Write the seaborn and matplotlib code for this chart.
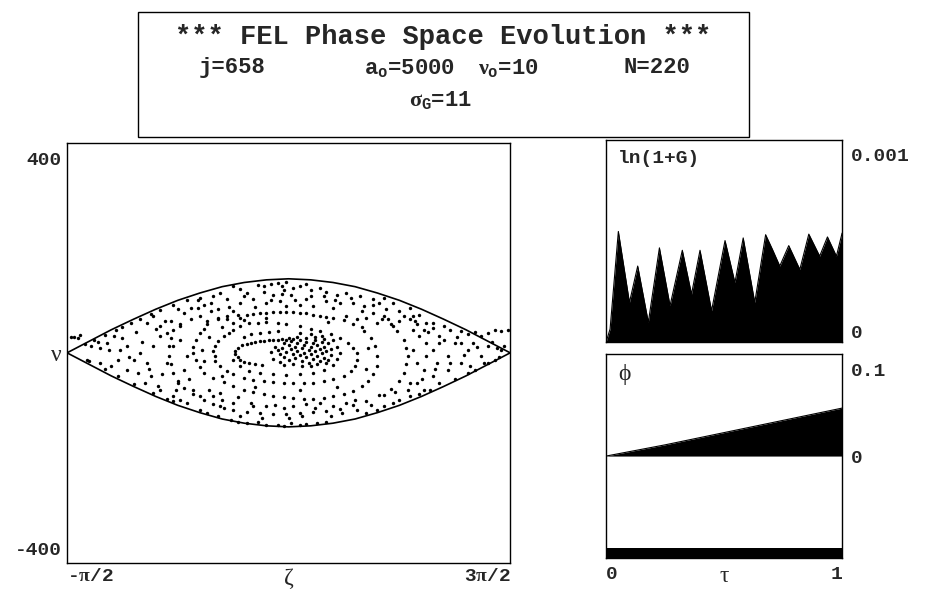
"""
FEL phase space evolution snapshot: particle phase space, gain and phase panels.
"""
import matplotlib

matplotlib.use("Agg")
import matplotlib.pyplot as plt  # noqa: E402
from matplotlib.patches import Rectangle  # noqa: E402
from matplotlib.transforms import ScaledTranslation  # noqa: E402

import numpy as np  # noqa: E402
import pandas as pd  # noqa: E402
import seaborn as sns  # noqa: E402

# Particles in the phase-space panel as (zeta / pi, nu).
core = [(0.27, 10), (0.29, 14), (0.31, 16), (0.33, 19), (0.35, 21), (0.37, 22),
        (0.39, 23), (0.41, 24), (0.43, 24), (0.45, 25), (0.47, 26), (0.49, 24),
        (0.26, 4), (0.26, -2), (0.27, -8), (0.28, -13), (0.30, -17), (0.32, -20),
        (0.35, -22), (0.38, -24),
        (0.44, 12), (0.45, 5), (0.46, -3), (0.47, 9), (0.48, 18), (0.48, -8),
        (0.49, 2), (0.50, 14), (0.50, -14), (0.51, 22), (0.51, 7), (0.52, -2),
        (0.52, 26), (0.53, 11), (0.53, -10), (0.54, 18), (0.54, 3), (0.55, -5),
        (0.55, 24), (0.56, 9), (0.56, -16), (0.57, 15), (0.57, 0), (0.58, 21),
        (0.58, -8), (0.59, 6), (0.59, -20), (0.60, 12), (0.60, -2), (0.61, 19),
        (0.61, -12), (0.62, 4), (0.62, 25), (0.63, -6), (0.63, 14), (0.64, -15),
        (0.64, 8), (0.65, 20), (0.65, 0), (0.66, -10), (0.66, 12), (0.67, 4),
        (0.67, -20), (0.46, -18), (0.48, -24), (0.52, -22), (0.56, -26),
        (0.60, -25), (0.63, -22), (0.50, 28), (0.54, 30), (0.58, 29), (0.62, 30),
        (0.66, 26), (0.68, 18), (0.69, 8), (0.69, -4), (0.68, -14), (0.43, -12),
        (0.42, 2)]

inner_ring = [(0.30, 30), (0.33, 35), (0.37, 38), (0.41, 40), (0.45, 41),
              (0.55, 38), (0.60, 35), (0.65, 32), (0.70, 24), (0.72, 12),
              (0.73, 0), (0.72, -12), (0.70, -24), (0.66, -32), (0.61, -38),
              (0.55, -41), (0.49, -42), (0.43, -41), (0.37, -39), (0.32, -34),
              (0.28, -26), (0.25, -14)]

ring_b = [(0.25, 44), (0.28, 51), (0.32, 56), (0.36, 57), (0.40, 58), (0.45, 57),
          (0.49, 55), (0.55, 51), (0.60, 46), (0.64, 41), (0.69, 35), (0.73, 29),
          (0.77, 19), (0.79, 10), (0.81, 0), (0.81, -13), (0.80, -25), (0.78, -35),
          (0.75, -44), (0.70, -50), (0.66, -54), (0.61, -57), (0.57, -58),
          (0.52, -58), (0.48, -57), (0.43, -56), (0.39, -54), (0.34, -52),
          (0.30, -48), (0.25, -41), (0.22, -35), (0.19, -25), (0.17, -16),
          (0.17, -6), (0.16, 3), (0.17, 13), (0.18, 22), (0.21, 32), (0.23, 38)]

ring_c = [(0.13, 54), (0.18, 64), (0.22, 70), (0.27, 73), (0.31, 73), (0.34, 74),
          (0.37, 75), (0.40, 76), (0.43, 77), (0.46, 77), (0.49, 77), (0.52, 77),
          (0.55, 76), (0.58, 75), (0.61, 73), (0.64, 71), (0.67, 69), (0.70, 66),
          (0.75, 62), (0.79, 54), (0.84, 41), (0.87, 29), (0.89, 13), (0.90, -6),
          (0.90, -25), (0.88, -41), (0.86, -54), (0.83, -64), (0.79, -73),
          (0.75, -79), (0.70, -83), (0.66, -86), (0.61, -88), (0.57, -88),
          (0.52, -86), (0.48, -84), (0.43, -83), (0.39, -79), (0.34, -75),
          (0.30, -70), (0.25, -64), (0.21, -56), (0.16, -48), (0.12, -38),
          (0.10, -27), (0.08, -14), (0.07, -1), (0.07, 11), (0.08, 24),
          (0.10, 38), (0.12, 46)]

ring_d = [(0.01, 51), (-0.02, 44), (-0.03, 29), (-0.04, 13), (-0.04, -6),
          (-0.03, -22), (-0.02, -38), (0.00, -54), (0.03, -67), (0.07, -79),
          (0.12, -90), (0.16, -98), (0.21, -105), (0.25, -109), (0.31, -113),
          (0.37, -114), (0.43, -116), (0.49, -116), (0.55, -114), (0.61, -113),
          (0.67, -111), (0.73, -107), (0.79, -100), (0.85, -92), (0.91, -81),
          (0.96, -69), (1.00, -54), (1.02, -38), (1.03, -22), (1.04, -6),
          (1.03, 10), (1.02, 25), (0.99, 41), (0.96, 54), (0.92, 65), (0.88, 75)]

top_band = [(0.36, 130), (0.39, 128), (0.42, 132), (0.45, 133), (0.47, 127),
            (0.49, 135), (0.52, 124), (0.55, 127), (0.58, 132), (0.64, 124),
            (0.25, 127), (0.28, 122), (0.31, 114), (0.19, 114), (0.16, 109),
            (0.10, 105), (0.67, 116), (0.72, 111), (0.76, 114), (0.82, 108),
            (0.88, 102), (0.93, 105), (0.39, 116), (0.43, 111), (0.48, 119),
            (0.60, 108), (0.51, 110),
            (-0.12, 74), (-0.08, 82), (-0.02, 92), (0.04, 100), (0.09, 100),
            (0.12, 92), (0.15, 95), (0.22, 102), (0.28, 95), (0.34, 102),
            (0.40, 95), (0.46, 98), (0.49, 89), (0.55, 92), (0.61, 89),
            (0.67, 98), (0.73, 95), (0.79, 95), (0.84, 89), (0.88, 92),
            (0.94, 83), (0.97, 95), (1.00, 79), (1.05, 86), (1.09, 73),
            (0.00, 83), (0.06, 86), (0.18, 83), (0.25, 79), (0.58, 102),
            (0.70, 86),
            (-0.33, 34), (-0.28, 44), (-0.25, 50), (-0.21, 57), (-0.17, 64),
            (-0.14, 57), (-0.11, 70), (-0.08, 51), (-0.03, 60), (0.01, 54),
            (0.06, 64), (0.10, 70), (0.13, 60), (0.18, 67), (0.22, 64),
            (0.25, 57), (0.28, 67),
            (0.76, 70), (0.81, 64), (0.85, 67), (0.90, 57), (0.93, 70),
            (0.97, 51), (1.00, 60), (1.05, 64), (1.08, 54), (1.12, 57),
            (1.15, 48), (1.20, 51), (1.23, 44), (1.28, 41), (1.31, 35)]

bottom_band = [(0.24, -128), (0.27, -131), (0.31, -134), (0.36, -132),
               (0.40, -137), (0.45, -137), (0.48, -139), (0.51, -133),
               (0.55, -137), (0.58, -135), (0.63, -133), (0.67, -132),
               (0.10, -108), (0.13, -114), (0.18, -121), (0.19, -102),
               (0.25, -95), (0.28, -121), (0.34, -102), (0.40, -102),
               (0.48, -105), (0.52, -102), (0.58, -98), (0.64, -95),
               (0.70, -102), (0.76, -95), (0.81, -108), (0.85, -114),
               (0.90, -108), (0.93, -102), (0.97, -95), (1.00, -89),
               (0.04, -95), (0.01, -89), (-0.02, -92), (0.10, -83),
               (0.07, -70), (0.16, -83), (0.19, -76)]

left_wing = [(-0.42, 17), (-0.39, 13), (-0.38, 25), (-0.35, 10), (-0.32, 19),
             (-0.29, 32), (-0.26, 6), (-0.23, 13), (-0.20, -13), (-0.17, 0),
             (-0.14, -19), (-0.11, 13), (-0.40, -15), (-0.41, -13),
             (-0.35, -19), (-0.30, -25), (-0.27, -13), (-0.23, -32),
             (-0.18, -38), (-0.15, -57), (-0.12, -44), (-0.09, -64),
             (-0.33, -30), (-0.27, -44), (-0.20, -60), (-0.11, -76),
             (-0.08, -70), (-0.05, -88), (-0.02, -83), (0.00, -57),
             (-0.05, -19), (-0.02, 13), (-0.08, 32), (-0.05, 38), (0.01, 25),
             (0.04, -6), (0.03, -32)]

right_wing = [(1.06, 44), (1.09, 32), (1.12, 19), (1.15, 6), (1.18, 32),
              (1.22, -6), (1.25, 19), (1.28, -19), (1.31, 6), (1.34, -32),
              (1.37, -6), (1.40, 13), (1.43, -13), (1.46, 6), (1.08, -19),
              (1.11, -32), (1.15, -44), (1.18, -57), (1.22, -32), (1.25, -50),
              (1.08, -57), (1.11, -70), (1.05, -83), (1.09, -78), (1.14, -70),
              (1.05, -57), (1.06, 6), (1.12, -6), (1.17, -19), (1.28, 19),
              (1.33, 19), (1.40, -19), (1.44, 10), (1.31, -38), (1.06, 70),
              (1.11, 44), (1.15, 57), (1.18, 19)]

scattered = [(-0.36, 20), (-0.31, 5), (-0.25, 28), (-0.22, -8), (-0.19, 40),
             (-0.16, 20), (-0.13, -30), (-0.10, 45), (-0.07, -40), (-0.06, 60),
             (-0.01, -70), (0.03, 75), (0.05, -50), (0.09, 85), (0.14, -70),
             (0.15, 80), (0.20, -90), (0.23, 88), (0.27, -85), (0.30, 108),
             (0.33, -95), (0.35, 88), (0.38, -125), (0.42, 100), (0.44, -100),
             (0.47, 112), (0.50, -125), (0.53, 100), (0.56, -120), (0.60, 120),
             (0.62, -105), (0.66, 108), (0.69, -120), (0.71, 100), (0.74, -115),
             (0.78, 105), (0.80, -90), (0.83, 80), (0.87, -100), (0.91, 95),
             (0.93, -80), (0.95, 65), (0.98, -75), (1.02, 70), (1.04, -70),
             (1.07, 60), (1.10, -50), (1.13, 40), (1.16, -30), (1.20, 25),
             (1.23, -20), (1.26, 30), (1.29, -5), (1.32, -25), (1.35, 12),
             (1.38, -20), (1.42, 20), (1.45, -8), (0.20, 50), (0.14, 30),
             (0.11, 5), (0.12, -15), (0.20, -45), (0.35, -65), (0.55, -70),
             (0.72, -65), (0.85, -30), (0.86, 10), (0.83, 50), (0.68, 58),
             (0.40, 66), (0.30, 62)]

outside = [(-0.48, 30), (-0.47, 31), (-0.45, 28), (-0.44, 34), (1.34, 40),
           (1.37, 32), (1.40, 38), (1.43, 44), (1.46, 41), (1.49, 44),
           (1.47, 13)]

# Separatrix, (zeta / pi, nu).
sep_zeta = [-0.5, -0.4, -0.3, -0.2, -0.1, 0.0, 0.1, 0.2, 0.3, 0.4, 0.5,
            0.6, 0.7, 0.8, 0.9, 1.0, 1.1, 1.2, 1.3, 1.4, 1.5]
sep_nu = [0, 22, 44, 64, 83, 100, 114, 126, 134, 139, 141,
          139, 134, 126, 114, 100, 83, 64, 44, 22, 0]

# Gain ln(1+G) against tau, values in units of 1e-3.
gain_tau = [0.0, 0.017, 0.052, 0.099, 0.134, 0.179, 0.226, 0.271, 0.323, 0.362,
            0.398, 0.447, 0.504, 0.546, 0.581, 0.630, 0.676, 0.705, 0.736,
            0.774, 0.821, 0.859, 0.905, 0.938, 0.976, 1.0]
gain_val = [0.0, 0.065, 0.547, 0.196, 0.376, 0.098, 0.466, 0.180, 0.454, 0.237,
            0.454, 0.155, 0.502, 0.294, 0.515, 0.196, 0.531, 0.458, 0.376,
            0.477, 0.359, 0.534, 0.425, 0.520, 0.425, 0.539]

# Optical phase against tau.
phase_tau = [0.0, 0.25, 0.5, 0.75, 1.0]
phase_val = [0.0, 0.011, 0.023, 0.035, 0.047]

# Progress bar at the foot of the phase panel (fraction of the run done).
progress_tau = [0.0, 1.0]

sns.set_style("white")
plt.rcParams.update({
    "font.family": ["Liberation Mono", "DejaVu Sans"],
    "font.weight": "bold",
    "mathtext.fontset": "custom",
    "mathtext.rm": "Liberation Mono:bold",
    "mathtext.bf": "Liberation Mono:bold",
    "mathtext.it": "Liberation Serif",
    "axes.edgecolor": "black",
    "axes.linewidth": 1.0,
})
GREEK = ["Liberation Serif", "DejaVu Serif"]

groups = {"core": core, "inner": inner_ring, "ring_b": ring_b, "ring_c": ring_c,
          "ring_d": ring_d, "top": top_band, "bottom": bottom_band,
          "left": left_wing, "right": right_wing, "scattered": scattered,
          "outside": outside}
rows = [(z * np.pi, n, g) for g, pts in groups.items() for z, n in pts]
particles = pd.DataFrame(rows, columns=["zeta", "nu", "group"])

fig = plt.figure(figsize=(9.31, 5.95), dpi=100)


def _nudge(label, dy_px):
    """Shift a tick label vertically by dy_px pixels."""
    label.set_transform(label.get_transform()
                        + ScaledTranslation(0, dy_px / 100, fig.dpi_scale_trans))


def _greek(label, size=17):
    label.set_family(GREEK)
    label.set_fontweight("normal")
    label.set_fontsize(size)


# Header box
fig.patches.append(Rectangle((0.148, 0.770), 0.657, 0.210, transform=fig.transFigure,
                             fill=False, edgecolor="black", linewidth=1.0))
fig.text(0.476, 0.938, "*** FEL Phase Space Evolution ***", ha="center", va="center",
         fontsize=19.5)
fig.text(0.249, 0.886, "j=658", ha="center", va="center", fontsize=16)
fig.text(0.440, 0.886, r"$\mathrm{a}_\mathrm{o}$=5000", ha="center", va="center", fontsize=16)
fig.text(0.546, 0.886, r"$\nu_\mathrm{o}$=10", ha="center", va="center", fontsize=16)
fig.text(0.706, 0.886, "N=220", ha="center", va="center", fontsize=16)
fig.text(0.473, 0.832, r"$\sigma_\mathrm{G}$=11", ha="center", va="center", fontsize=16)

# Phase space
ax = fig.add_axes([0.072, 0.054, 0.476, 0.706])
sep = pd.DataFrame({"zeta": np.array(sep_zeta) * np.pi, "nu": sep_nu})
sns.lineplot(data=sep, x="zeta", y="nu", color="black", linewidth=1.2, ax=ax)
sns.lineplot(x=sep["zeta"], y=-sep["nu"], color="black", linewidth=1.2, ax=ax)
sns.scatterplot(data=particles, x="zeta", y="nu", color="black", marker="o", s=6,
                linewidth=0, ax=ax)
ax.set_xlim(-np.pi / 2, 3 * np.pi / 2)
ax.set_ylim(-400, 400)
ax.set_xlabel("")
ax.set_ylabel("")
ax.set_yticks([400, 0, -400])
ax.set_yticklabels(["400", "ν", "-400"])
ax.set_xticks([-np.pi / 2, np.pi / 2, 3 * np.pi / 2])
ax.set_xticklabels([r"-$\pi$/2", "ζ", r"3$\pi$/2"])
ax.tick_params(length=0, labelsize=14, pad=4)
ylabs = ax.get_yticklabels()
ylabs[0].set_va("top")
ylabs[2].set_va("bottom")
_nudge(ylabs[0], -9)
_nudge(ylabs[2], 4)
_greek(ylabs[1])
xlabs = ax.get_xticklabels()
xlabs[0].set_ha("left")
xlabs[2].set_ha("right")
_greek(xlabs[1])

# Gain panel
axg = fig.add_axes([0.651, 0.425, 0.2535, 0.340])
gain = pd.DataFrame({"tau": gain_tau, "g": np.array(gain_val) * 1e-3})
sns.lineplot(data=gain, x="tau", y="g", color="black", linewidth=0.8, ax=axg)
axg.fill_between(gain["tau"], 0, gain["g"], color="black", linewidth=0)
axg.set_xlim(0, 1)
axg.set_ylim(0, 0.001)
axg.set_xlabel("")
axg.set_ylabel("")
axg.set_xticks([])
axg.yaxis.tick_right()
axg.set_yticks([0.001, 0])
axg.set_yticklabels(["0.001", "0"])
axg.tick_params(length=0, labelsize=14, pad=6)
glabs = axg.get_yticklabels()
glabs[0].set_va("top")
glabs[1].set_va("bottom")
_nudge(glabs[0], -8)
axg.text(0.05, 0.95, "ln(1+G)", transform=axg.transAxes, ha="left", va="top",
         fontsize=14)

# Phase panel
axp = fig.add_axes([0.651, 0.062, 0.2535, 0.343])
phase = pd.DataFrame({"tau": phase_tau, "phi": phase_val})
sns.lineplot(data=phase, x="tau", y="phi", color="black", linewidth=0.8, ax=axp)
axp.fill_between(phase["tau"], 0, phase["phi"], color="black", linewidth=0)
axp.fill_between(progress_tau, -0.1, -0.09, color="black", linewidth=0)
axp.set_xlim(0, 1)
axp.set_ylim(-0.1, 0.1)
axp.set_xlabel("")
axp.set_ylabel("")
axp.yaxis.tick_right()
axp.set_yticks([0.1, 0])
axp.set_yticklabels(["0.1", "0"])
axp.set_xticks([0, 0.5, 1])
axp.set_xticklabels(["0", "τ", "1"])
axp.tick_params(length=0, labelsize=14, pad=6)
plabs_y = axp.get_yticklabels()
plabs_y[0].set_va("top")
_nudge(plabs_y[0], -9)
plabs = axp.get_xticklabels()
plabs[0].set_ha("left")
plabs[2].set_ha("right")
_greek(plabs[1])
axp.text(0.05, 0.95, "\u03d5", transform=axp.transAxes, ha="left", va="top",
         fontsize=17, family=GREEK, fontweight="normal")

fig.savefig("out.png", dpi=100)
